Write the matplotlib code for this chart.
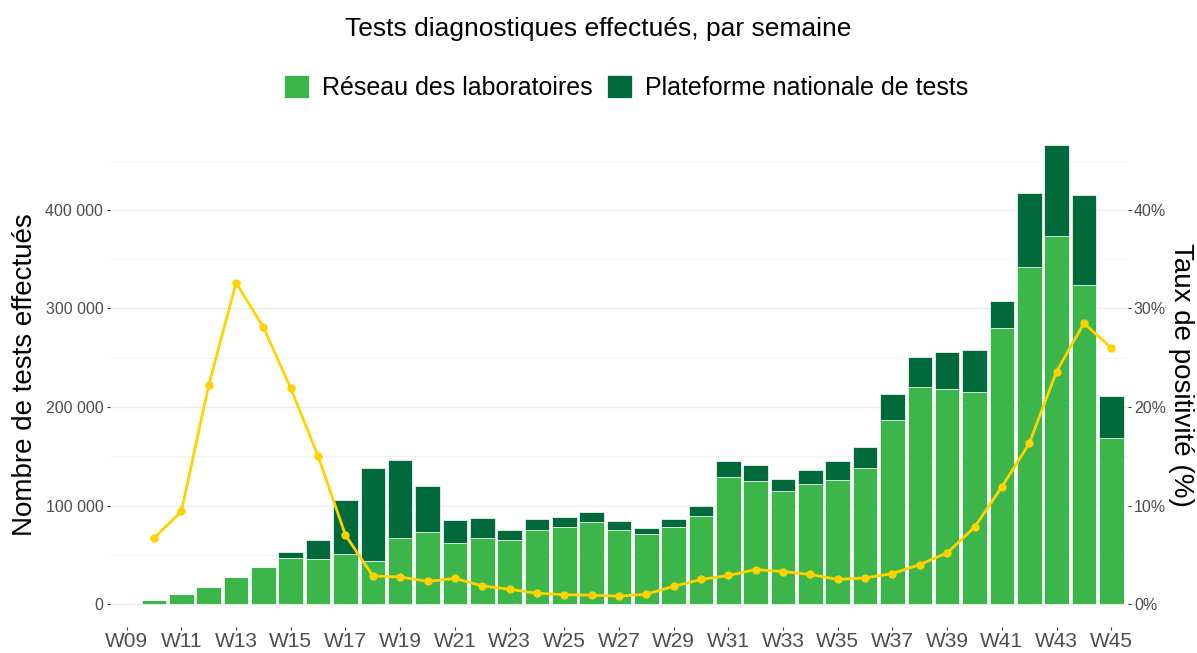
import matplotlib.pyplot as plt
import numpy as np
from matplotlib.ticker import FuncFormatter, MultipleLocator

plt.rcParams['font.family'] = ['Liberation Sans', 'DejaVu Sans']

# Data
weeks = ['W%02d' % w for w in range(9, 46)]
reseau = [np.nan, 4500, 10000, 17000, 27000, 38000, 46500, 45500, 50500, 44000,
          67000, 73000, 62000, 67000, 65000, 75500, 78500, 83500, 75000, 71000,
          78500, 89000, 129000, 124500, 115000, 121500, 126000, 138000, 186500,
          220000, 218000, 215500, 280000, 342000, 374000, 324000, 169000]
total = [np.nan, 4500, 10000, 17000, 27000, 38000, 53000, 65000, 105500, 138000,
         146500, 120000, 85000, 87000, 75000, 86000, 88000, 93000, 84500, 77000,
         86500, 99500, 145000, 141000, 126500, 136500, 145000, 159000, 213500,
         250500, 256000, 258000, 308000, 417500, 466000, 415000, 211000]
plateforme = [t - r for t, r in zip(total, reseau)]
taux = [np.nan, 6.7, 9.4, 22.2, 32.6, 28.1, 21.9, 15.0, 7.0, 2.85, 2.75, 2.3, 2.6,
        1.85, 1.5, 1.1, 0.95, 0.9, 0.8, 1.0, 1.8, 2.5, 2.9, 3.5, 3.3, 3.0, 2.5,
        2.65, 3.1, 4.0, 5.2, 7.8, 11.9, 16.3, 23.6, 28.5, 26.0]

light_green = '#3cb54a'
dark_green = '#006a3a'
yellow = '#ffd200'
grey_txt = '#4d4d4d'

fig = plt.figure(figsize=(11.97, 6.53), dpi=100)
ax = fig.add_axes([0.0921, 0.0398, 0.850, 0.7734])

x = np.arange(len(weeks))
ax.bar(x, reseau, width=0.9, color=light_green, edgecolor='white', linewidth=0.5,
       label='Réseau des laboratoires', zorder=2)
ax.bar(x, plateforme, bottom=reseau, width=0.9, color=dark_green, edgecolor='white',
       linewidth=0.5, label='Plateforme nationale de tests', zorder=2)

ymax = np.nanmax(total)
ylo, yhi = -0.05 * ymax, 1.05 * ymax
ax.set_ylim(ylo, yhi)
ax.set_xlim(-0.6, len(weeks) - 0.4)

ax.yaxis.set_major_locator(MultipleLocator(100000))
ax.yaxis.set_minor_locator(MultipleLocator(50000))
ax.yaxis.set_major_formatter(FuncFormatter(lambda v, p: f'{v:,.0f}'.replace(',', ' ')))
ax.grid(axis='y', which='major', color='#ebebeb', linewidth=1.0, zorder=0)
ax.grid(axis='y', which='minor', color='#f3f3f3', linewidth=0.8, zorder=0)
ax.set_axisbelow(True)

ax.set_xticks(x[::2])
ax.set_xticklabels(weeks[::2])
ax.tick_params(axis='x', colors='#333333', labelcolor=grey_txt, labelsize=15,
               length=2.5, width=0.8, pad=1)
ax.tick_params(axis='y', which='major', colors='#333333', labelcolor=grey_txt,
               labelsize=11.5, length=2.5, width=0.8, pad=2.5)
ax.tick_params(axis='y', which='minor', length=0)
for s in ax.spines.values():
    s.set_visible(False)
ax.set_ylabel('Nombre de tests effectués', fontsize=20, labelpad=5)

# Positivity rate on secondary axis (10% <-> 100 000)
ax2 = ax.twinx()
ax2.plot(x, taux, color=yellow, linewidth=2, marker='o', markersize=5, zorder=3)
ax2.set_ylim(ylo / 10000, yhi / 10000)
ax2.set_yticks([0, 10, 20, 30, 40])
ax2.yaxis.set_major_formatter(FuncFormatter(lambda v, p: f'{v:.0f}%'))
ax2.tick_params(axis='y', colors='#333333', labelcolor=grey_txt, labelsize=11.5,
                length=2.5, width=0.8, pad=2)
for s in ax2.spines.values():
    s.set_visible(False)
ax2.set_ylabel('Taux de positivité (%)', fontsize=20, rotation=270, labelpad=1)
ax2.yaxis.label.set_verticalalignment('bottom')

fig.suptitle('Tests diagnostiques effectués, par semaine', fontsize=19, y=0.974)
fig.legend(loc='center', bbox_to_anchor=(0.523, 0.866), ncol=2, frameon=False,
           fontsize=18, handlelength=1.0, handleheight=1.0, columnspacing=0.6,
           handletextpad=0.5)

fig.savefig('out.png', dpi=100)
